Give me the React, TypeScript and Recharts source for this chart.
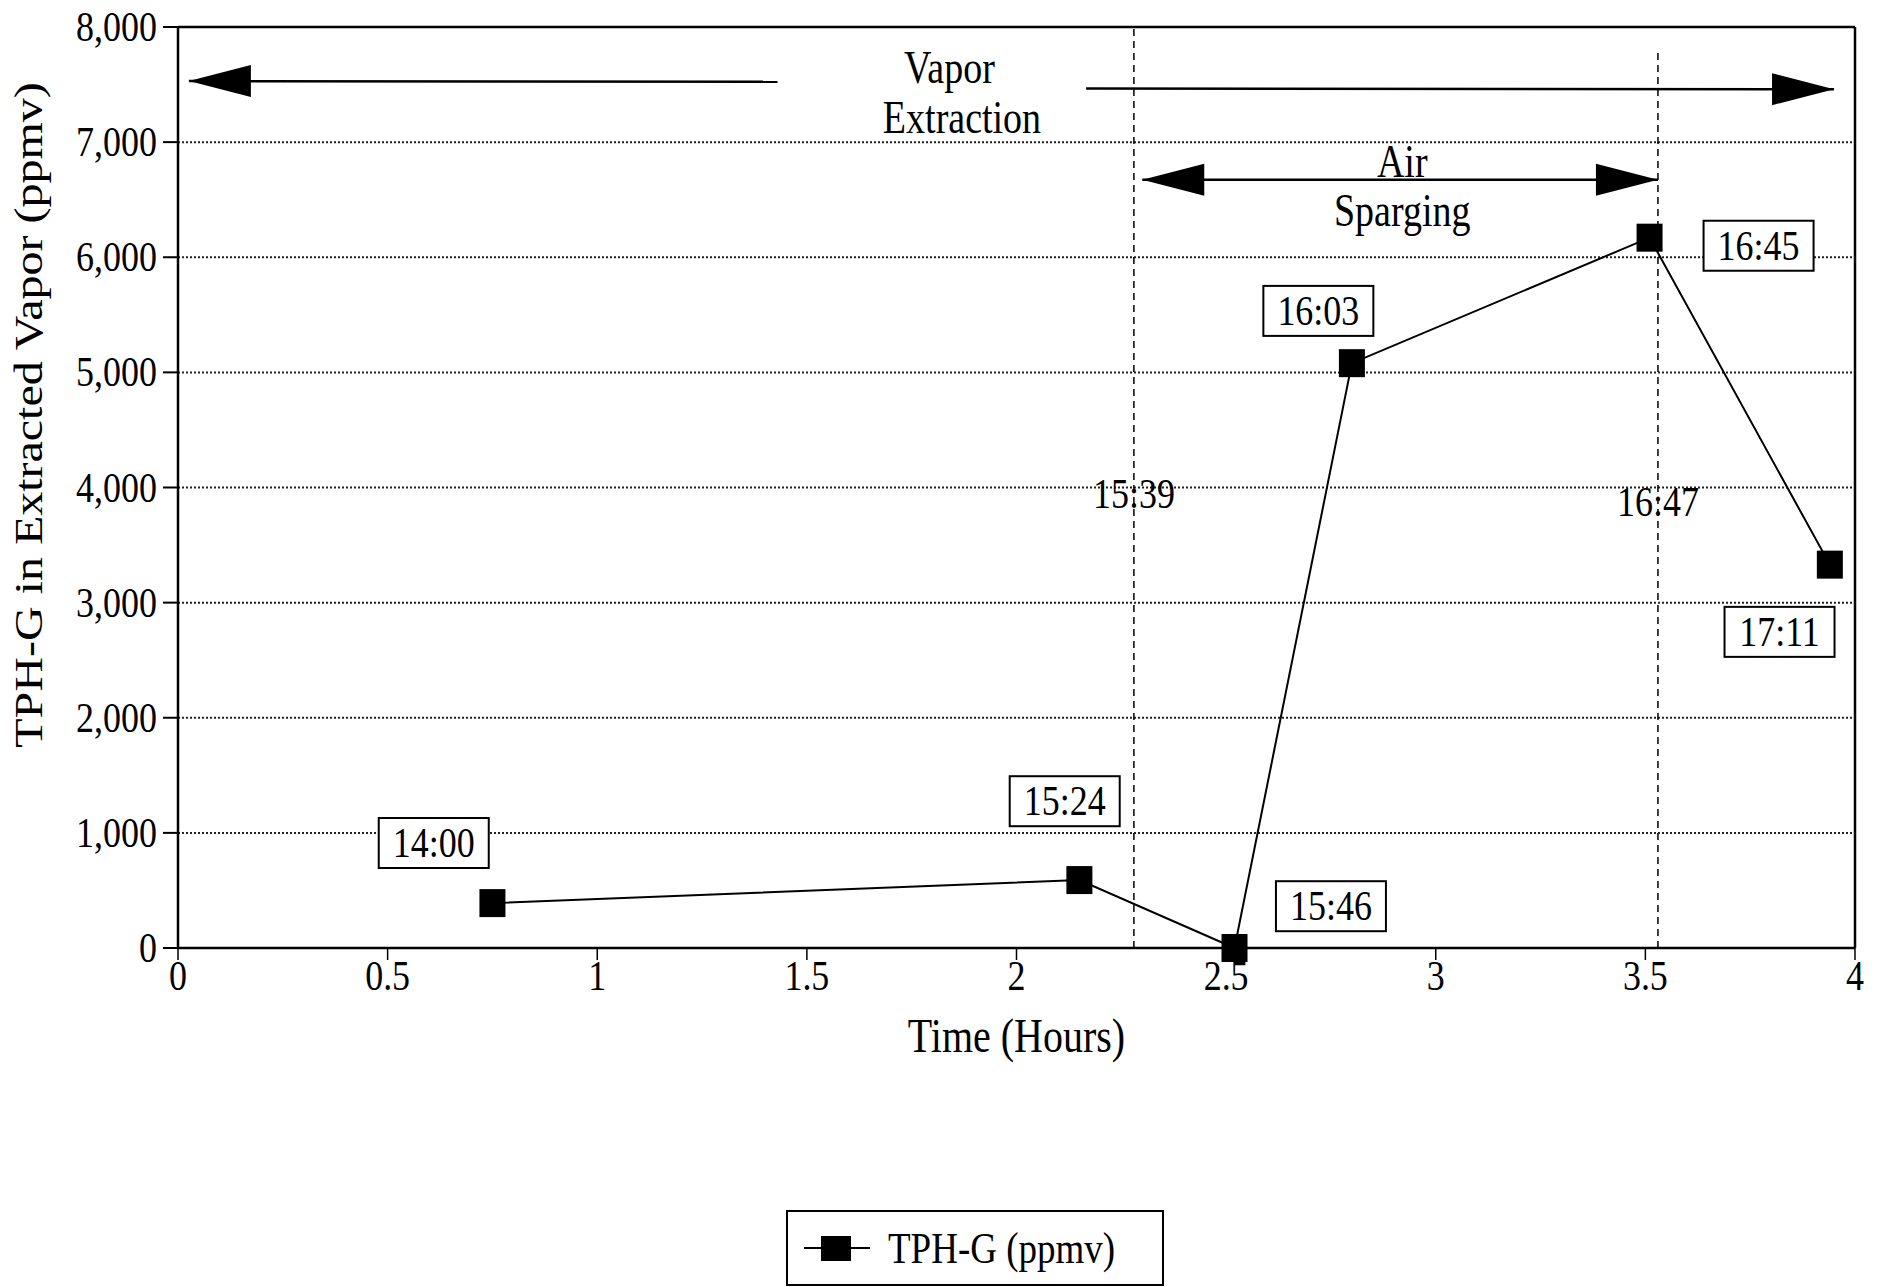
import React from "react";
import { CartesianGrid, Legend, Line, LineChart, ReferenceDot, ReferenceLine, XAxis, YAxis } from "recharts";

const hours = [0.75, 2.15, 2.52, 2.8, 3.51, 3.94];
const tphG = [390, 590, 0, 5080, 6170, 3330];
const xTicks = [0, 0.5, 1, 1.5, 2, 2.5, 3, 3.5, 4];
const yTicks = [0, 1000, 2000, 3000, 4000, 5000, 6000, 7000, 8000];

// clock time boxes beside each sample
const boxText = ["14:00", "15:24", "15:46", "16:03", "16:45", "17:11"];
const boxX = [0.61, 2.115, 2.75, 2.72, 3.77, 3.82];
const boxY = [912, 1275, 363, 5534, 6100, 2746];

// air sparging on / off markers
const eventText = ["15:39", "16:47"];
const eventX = [2.28, 3.53];
const eventTop = [8000, 7800];
const eventTextY = [3948, 3876];

// phase arrows
const phaseText = ["Vapor", "Extraction", "Air", "Sparging"];
const phaseTextX = [1.84, 1.87, 2.92, 2.92];
const phaseTextY = [7650, 7210, 6830, 6400];
const shaftFrom = [[0.026, 7530], [2.166, 7465], [2.3, 6674]];
const shaftTo = [[1.43, 7525], [3.95, 7460], [3.53, 6674]];
const headX = [0.026, 3.95, 2.3, 3.53];
const headY = [7530, 7460, 6674, 6674];
const headDir = [-1, 1, -1, 1];

const FONT = "'Liberation Serif', 'Times New Roman', serif";
const STRETCH = 1.2; // scanned text is taller than it is wide

const data = hours.map((h, i) => ({ h, tph: tphG[i] }));

function T({ x, y, size, anchor = "middle", rotate = false, children }: any) {
  return (
    <text
      transform={`translate(${x},${y}) scale(1,${STRETCH})${rotate ? " rotate(-90)" : ""}`}
      textAnchor={anchor}
      dominantBaseline="central"
      fontSize={size}
      fontFamily={FONT}
      fill="#000"
    >
      {children}
    </text>
  );
}

function Square({ cx, cy }: any) {
  if (cx == null || cy == null) return null;
  return <rect x={cx - 13} y={cy - 14} width={26} height={28} fill="#000" />;
}

function LegendBox() {
  return (
    <div
      style={{
        width: 378,
        height: 76,
        boxSizing: "border-box",
        border: "2px solid #000",
        display: "flex",
        alignItems: "center",
        paddingLeft: 16,
        fontFamily: FONT,
        fontSize: 37,
        background: "#fff",
      }}
    >
      <svg width={66} height={30}>
        <line x1={0} y1={15} x2={66} y2={15} stroke="#000" strokeWidth={2} />
        <rect x={17} y={3} width={30} height={25} fill="#000" />
      </svg>
      <span style={{ marginLeft: 18, display: "inline-block", transform: `scaleY(${STRETCH})` }}>TPH-G (ppmv)</span>
    </div>
  );
}

export default function App() {
  return (
    <div style={{ fontFamily: FONT }}>
      <LineChart width={1873} height={1279} data={data} margin={{ top: 19, right: 26, left: 0, bottom: 239 }}>
        <CartesianGrid horizontal vertical={false} stroke="#222" strokeWidth={2} strokeDasharray="2 2" />
        <XAxis
          type="number"
          dataKey="h"
          domain={[0, 4]}
          ticks={xTicks}
          interval={0}
          height={100}
          tickSize={12}
          tickMargin={0}
          axisLine={{ stroke: "#000", strokeWidth: 2.5 }}
          tickLine={{ stroke: "#000", strokeWidth: 1.5 }}
          tick={(p: any) => <T x={p.x} y={p.y + 16} size={36}>{p.payload.value}</T>}
          label={{
            content: (p: any) => (
              <T x={p.viewBox.x + p.viewBox.width / 2} y={p.viewBox.y + 88} size={40}>
                Time (Hours)
              </T>
            ),
          }}
        />
        <YAxis
          type="number"
          domain={[0, 8000]}
          ticks={yTicks}
          interval={0}
          width={170}
          tickSize={15}
          tickMargin={6}
          axisLine={{ stroke: "#000", strokeWidth: 2.5 }}
          tickLine={{ stroke: "#000", strokeWidth: 2 }}
          tick={(p: any) => (
            <T x={p.x} y={p.y} size={36} anchor="end">
              {Number(p.payload.value).toLocaleString("en-US")}
            </T>
          )}
          label={{
            content: (p: any) => (
              <T x={p.viewBox.x + 21} y={p.viewBox.y + 388} size={40} rotate>
                TPH-G in Extracted Vapor (ppmv)
              </T>
            ),
          }}
        />

        <ReferenceLine y={8000} stroke="#000" strokeWidth={2.5} />
        <ReferenceLine x={4} stroke="#000" strokeWidth={2.5} />

        {eventX.map((x, i) => (
          <ReferenceLine
            key={`ev${i}`}
            segment={[{ x, y: 0 }, { x, y: eventTop[i] }]}
            stroke="#000"
            strokeWidth={1.5}
            strokeDasharray="7 5"
          />
        ))}
        {eventText.map((t, i) => (
          <ReferenceDot
            key={`evt${i}`}
            x={eventX[i]}
            y={eventTextY[i]}
            shape={(p: any) => <T x={p.cx} y={p.cy} size={36}>{t}</T>}
          />
        ))}

        {shaftFrom.map((f, i) => (
          <ReferenceLine
            key={`sh${i}`}
            segment={[{ x: f[0], y: f[1] }, { x: shaftTo[i][0], y: shaftTo[i][1] }]}
            stroke="#000"
            strokeWidth={2.5}
          />
        ))}
        {headX.map((x, i) => (
          <ReferenceDot
            key={`hd${i}`}
            x={x}
            y={headY[i]}
            shape={(p: any) => {
              const d = headDir[i];
              const b = p.cx - d * 62;
              return <polygon points={`${p.cx},${p.cy} ${b},${p.cy - 16} ${b},${p.cy + 16}`} fill="#000" />;
            }}
          />
        ))}
        {phaseText.map((t, i) => (
          <ReferenceDot
            key={`ph${i}`}
            x={phaseTextX[i]}
            y={phaseTextY[i]}
            shape={(p: any) => <T x={p.cx} y={p.cy} size={38}>{t}</T>}
          />
        ))}

        {boxText.map((t, i) => (
          <ReferenceDot
            key={`bx${i}`}
            x={boxX[i]}
            y={boxY[i]}
            shape={(p: any) => (
              <g>
                <rect x={p.cx - 55} y={p.cy - 25} width={110} height={50} fill="#fff" stroke="#000" strokeWidth={2} />
                <T x={p.cx} y={p.cy} size={36}>{t}</T>
              </g>
            )}
          />
        ))}

        <Line
          dataKey="tph"
          stroke="#000"
          strokeWidth={2}
          dot={<Square />}
          activeDot={false}
          isAnimationActive={false}
          name="TPH-G (ppmv)"
        />
        <Legend
          layout="horizontal"
          verticalAlign="middle"
          align="center"
          wrapperStyle={{ left: 778, top: 1202, width: 378 }}
          content={() => <LegendBox />}
        />
      </LineChart>
    </div>
  );
}
